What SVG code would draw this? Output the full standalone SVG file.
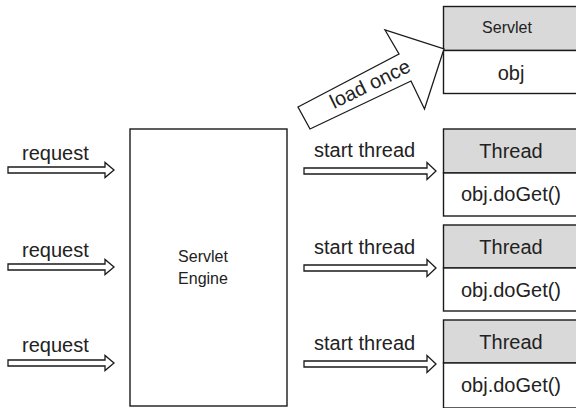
<svg xmlns="http://www.w3.org/2000/svg" width="576" height="408" viewBox="0 0 576 408">
<style>
  .box { fill: #ffffff; stroke: #1a1a1a; stroke-width: 1.4; }
  .hdr { fill: #d9d9d9; stroke: #1a1a1a; stroke-width: 1.4; }
  .arrow { fill: #ffffff; stroke: #1a1a1a; stroke-width: 1.3; stroke-linejoin: miter; }
  text { font-family: "Liberation Sans", Arial, sans-serif; fill: #222222; }
  .lbl { font-size: 20px; }
  .big { font-size: 20px; text-anchor: middle; }
  .small { font-size: 16px; text-anchor: middle; }
</style>
<rect width="576" height="408" fill="#ffffff"/>

<g id="engine">
  <rect class="box" x="130" y="129" width="157" height="277"/>
  <text class="small" x="203" y="262">Servlet</text>
  <text class="small" x="203" y="284">Engine</text>
</g>

<g id="servlet">
  <rect class="hdr" x="443.5" y="6.5" width="140" height="44"/>
  <rect class="box" x="443.5" y="50.5" width="140" height="43"/>
  <text class="small" x="507" y="33">Servlet</text>
  <text class="big" x="511" y="80">obj</text>
</g>

<g id="thread1">
  <rect class="hdr" x="443.5" y="129" width="140" height="44"/>
  <rect class="box" x="443.5" y="173" width="140" height="43"/>
  <text class="big" x="511" y="158">Thread</text>
  <text class="big" x="511" y="201">obj.doGet()</text>
</g>

<g id="thread2">
  <rect class="hdr" x="443.5" y="225" width="140" height="43"/>
  <rect class="box" x="443.5" y="268" width="140" height="43"/>
  <text class="big" x="511" y="254">Thread</text>
  <text class="big" x="511" y="297">obj.doGet()</text>
</g>

<g id="thread3">
  <rect class="hdr" x="443.5" y="320" width="140" height="43"/>
  <rect class="box" x="443.5" y="363" width="140" height="45"/>
  <text class="big" x="511" y="349">Thread</text>
  <text class="big" x="511" y="392">obj.doGet()</text>
</g>

<g id="connectors">
  <!-- request arrows -->
  <polygon class="arrow" points="8,167 105,167 105,162.5 114,170 105,177.5 105,173 8,173"/>
  <polygon class="arrow" points="8,264 105,264 105,259.5 114,267 105,274.5 105,270 8,270"/>
  <polygon class="arrow" points="8,360 105,360 105,355.5 114,363 105,370.5 105,366 8,366"/>
  <text class="lbl" x="22" y="160">request</text>
  <text class="lbl" x="22" y="257">request</text>
  <text class="lbl" x="22" y="352">request</text>

  <!-- start thread arrows -->
  <polygon class="arrow" points="304,168 427,168 427,162.5 436,171 427,179.5 427,174 304,174"/>
  <polygon class="arrow" points="304,265 427,265 427,259.5 436,268 427,276.5 427,271 304,271"/>
  <polygon class="arrow" points="304,361 427,361 427,355.5 436,364 427,372.5 427,367 304,367"/>
  <text class="lbl" x="314" y="157">start thread</text>
  <text class="lbl" x="314" y="254">start thread</text>
  <text class="lbl" x="314" y="350">start thread</text>

  <!-- load once arrow -->
  <polygon class="arrow" points="298,107 399,54 385,30 444,49 424.5,109 411,81 310,129"/>
  <text class="big" font-size="19" transform="translate(373,90) rotate(-26)">load once</text>
</g>
</svg>
